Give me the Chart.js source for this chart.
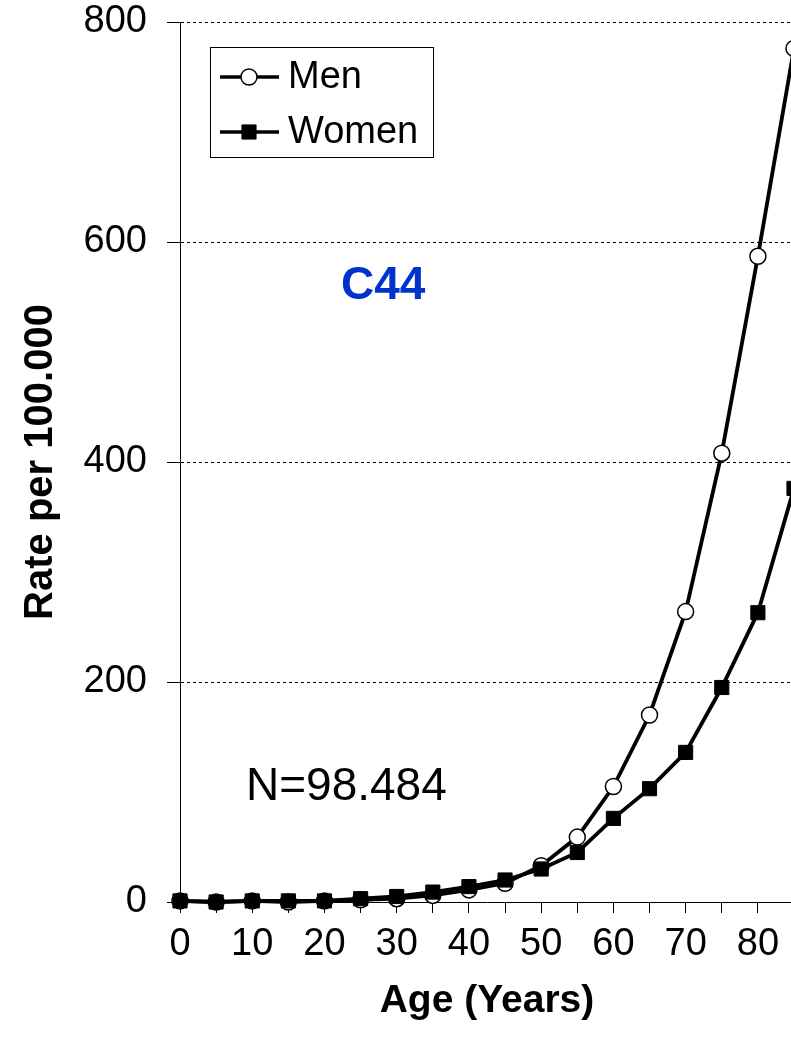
<!DOCTYPE html>
<html>
<head>
<meta charset="utf-8">
<script src="https://cdn.jsdelivr.net/npm/chart.js@4/dist/chart.umd.min.js"></script>
<style>
  html, body { margin: 0; padding: 0; background: #fff; overflow: hidden; }
  #wrap { position: relative; width: 810px; height: 1049px; }
</style>
</head>
<body>
<div id="wrap"><canvas id="chart" width="810" height="1049"></canvas></div>
<script>
// Age groups (years) and incidence rates per 100.000
const ages = [0, 5, 10, 15, 20, 25, 30, 35, 40, 45, 50, 55, 60, 65, 70, 75, 80, 85];
const menRates = [1, 0, 1, 0, 1, 2, 3, 6, 11, 17, 33, 59, 105, 170, 264, 408, 587, 776];
const womenRates = [1, 0, 1, 1, 1, 3, 5, 9, 14, 20, 30, 45, 76, 103, 136, 195, 263, 376];
const yTicks = [0, 200, 400, 600, 800];

const FONT = 'Liberation Sans, Arial, sans-serif';

function toPoints(values) {
  return ages.map((a, i) => ({ x: a, y: values[i] }));
}

// legend box + text labels drawn inside the plot
const extrasPlugin = {
  id: 'extras',
  afterDraw(chart) {
    const ctx = chart.ctx;
    ctx.save();

    // legend box
    ctx.strokeStyle = '#000';
    ctx.lineWidth = 1;
    ctx.fillStyle = '#fff';
    ctx.fillRect(210.5, 47.5, 223, 110);
    ctx.strokeRect(210.5, 47.5, 223, 110);

    const rows = [
      { label: 'Men', y: 77, ds: chart.data.datasets[0] },
      { label: 'Women', y: 132, ds: chart.data.datasets[1] }
    ];
    rows.forEach(r => {
      ctx.strokeStyle = '#000';
      ctx.lineWidth = 3.5;
      ctx.beginPath();
      ctx.moveTo(220, r.y);
      ctx.lineTo(279, r.y);
      ctx.stroke();
      ctx.fillStyle = r.ds.pointBackgroundColor;
      ctx.strokeStyle = r.ds.pointBorderColor;
      ctx.lineWidth = r.ds.pointBorderWidth;
      Chart.helpers.drawPoint(ctx, { pointStyle: r.ds.pointStyle, rotation: 0, radius: r.ds.pointRadius, borderWidth: r.ds.pointBorderWidth }, 249, r.y);
      ctx.fillStyle = '#000';
      ctx.font = '38px ' + FONT;
      ctx.textAlign = 'left';
      ctx.textBaseline = 'middle';
      ctx.fillText(r.label, 288, r.y + 1);
    });

    ctx.fillStyle = '#0033CC';
    ctx.font = 'bold 46px ' + FONT;
    ctx.textBaseline = 'middle';
    ctx.fillText('C44', 341, 286);

    ctx.fillStyle = '#000';
    ctx.font = '46px ' + FONT;
    ctx.fillText('N=98.484', 246, 787);

    ctx.restore();
  }
};

new Chart(document.getElementById('chart'), {
  type: 'line',
  data: {
    datasets: [
      {
        label: 'Men',
        data: toPoints(menRates),
        order: 1,
        borderColor: '#000',
        borderWidth: 3.8,
        pointStyle: 'circle',
        pointRadius: 8,
        pointBackgroundColor: '#fff',
        pointBorderColor: '#000',
        pointBorderWidth: 1.5,
        tension: 0
      },
      {
        label: 'Women',
        data: toPoints(womenRates),
        order: 0,
        borderColor: '#000',
        borderWidth: 3.8,
        pointStyle: 'rect',
        pointRadius: 10,
        pointBackgroundColor: '#000',
        pointBorderColor: '#000',
        pointBorderWidth: 1,
        tension: 0
      }
    ]
  },
  options: {
    responsive: false,
    animation: false,
    clip: false,
    layout: { padding: { left: 0, right: 16, top: 0, bottom: 0 } },
    plugins: {
      legend: { display: false },
      tooltip: { enabled: false }
    },
    scales: {
      x: {
        type: 'linear',
        min: 0,
        max: 85,
        afterFit(scale) { scale.height = 147; },
        afterBuildTicks(scale) {
          scale.ticks = ages.map(v => ({ value: v }));
        },
        ticks: {
          autoSkip: false,
          maxRotation: 0,
          padding: 9,
          color: '#000',
          font: { family: FONT, size: 38 },
          callback: v => (v % 10 === 0 ? String(v) : '')
        },
        grid: {
          drawOnChartArea: false,
          drawTicks: true,
          tickLength: 11,
          tickColor: '#000',
          lineWidth: 1
        },
        border: { display: true, color: '#000', width: 1 },
        title: {
          display: true,
          text: 'Age (Years)',
          color: '#000',
          font: { family: FONT, size: 39, weight: 'bold' },
          padding: { top: 0, bottom: 24 }
        }
      },
      y: {
        min: 0,
        max: 800,
        afterFit(scale) {
          scale.width = 180;
          // top of plot area sits at y=22 like the reference
          scale.paddingTop = 22;
        },
        afterBuildTicks(scale) {
          scale.ticks = yTicks.map(v => ({ value: v }));
        },
        ticks: {
          padding: 20,
          color: '#000',
          font: { family: FONT, size: 38 }
        },
        grid: {
          drawTicks: true,
          tickLength: 13,
          tickColor: '#000',
          tickBorderDash: [],
          lineWidth: 1,
          color: ctx => (ctx.tick && ctx.tick.value === 0 ? 'rgba(0,0,0,0)' : '#000')
        },
        // border.dash styles the gridlines in v4 (dotted)
        border: { display: true, color: '#000', width: 1, dash: [3, 3] },
        title: {
          display: true,
          text: 'Rate per 100.000',
          color: '#000',
          font: { family: FONT, size: 40, weight: 'bold' },
          padding: { top: 17, bottom: 0 }
        }
      }
    }
  },
  plugins: [extrasPlugin]
});
</script>
</body>
</html>
